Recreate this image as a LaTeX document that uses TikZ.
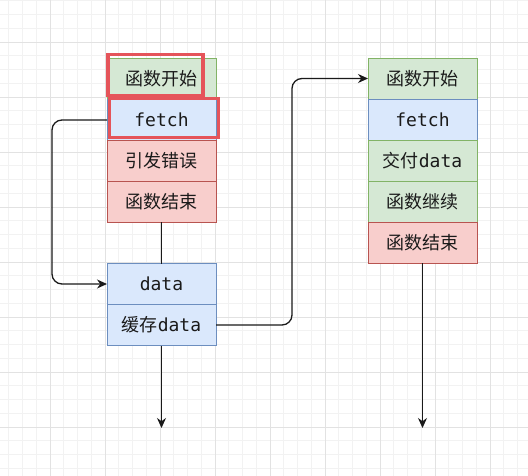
\documentclass[tikz,border=0pt]{standalone}
\usepackage{fontspec}
\setmainfont{Noto Sans CJK SC}
\setmonofont{DejaVu Sans Mono}
\usetikzlibrary{arrows.meta, positioning}
\definecolor{gridminor}{HTML}{F2F2F2}
\definecolor{gridmajor}{HTML}{E2E2E2}
\definecolor{greenfill}{HTML}{D5E8D4}
\definecolor{greenline}{HTML}{82B366}
\definecolor{bluefill}{HTML}{DAE8FC}
\definecolor{blueline}{HTML}{6C8EBF}
\definecolor{redfill}{HTML}{F8CECC}
\definecolor{redline}{HTML}{B85450}
\definecolor{hlred}{HTML}{E5545A}
\definecolor{inkdark}{HTML}{1A1A1A}

\begin{document}
\begin{tikzpicture}[
    x=1pt, y=-1pt,
    >=Stealth,
    font=\fontsize{18}{21}\selectfont,
    every node/.style={inner sep=0pt, outer sep=0pt},
    rowbox/.style={
        draw, line width=0.9pt, minimum width=109pt, minimum height=41pt,
        text=inkdark, align=center
    },
    greenbox/.style={rowbox, fill=greenfill, draw=greenline},
    bluebox/.style={rowbox, fill=bluefill, draw=blueline},
    redbox/.style={rowbox, fill=redfill, draw=redline},
    hlbox/.style={draw=hlred, line width=3.5pt},
    flow/.style={line width=1.3pt, inkdark, rounded corners=10pt},
    arrflow/.style={flow, -{Stealth[length=10pt, width=9pt]}},
]
\useasboundingbox (0,0) rectangle (528,476);

% === Background grid ===
\fill[white] (0,0) rectangle (528,476);
\foreach \i in {1,...,38} {
    \draw[gridminor, line width=0.6pt] ({-5+13.75*\i},0) -- ({-5+13.75*\i},476);
}
\foreach \i in {1,...,35} {
    \draw[gridminor, line width=0.6pt] (0,{-13+13.75*\i}) -- (528,{-13+13.75*\i});
}
\foreach \i in {1,...,9} {
    \draw[gridmajor, line width=0.8pt] ({-5+55*\i},0) -- ({-5+55*\i},476);
}
\foreach \i in {1,...,8} {
    \draw[gridmajor, line width=0.8pt] (0,{-13+55*\i}) -- (528,{-13+55*\i});
}

% === Left stack ===
\node[greenbox] (lstart) at (161.5,79) {函数开始};
\node[bluebox, below=0pt of lstart] (lfetch) {\texttt{fetch}};
\node[redbox, below=0pt of lfetch] (lerror) {引发错误};
\node[redbox, below=0pt of lerror] (lend) {函数结束};

% === Cache stack ===
\node[bluebox] (ldata) at (161.5,284) {\texttt{data}};
\node[bluebox, below=0pt of ldata] (lcache) {缓存\texttt{data}};

% === Right stack ===
\node[greenbox] (rstart) at (422.5,78.5) {函数开始};
\node[bluebox, below=0pt of rstart] (rfetch) {\texttt{fetch}};
\node[greenbox, below=0pt of rfetch] (rdeliver) {交付\texttt{data}};
\node[greenbox, below=0pt of rdeliver] (rgoon) {函数继续};
\node[redbox, below=0pt of rgoon] (rend) {函数结束};

% === Highlights ===
\node[hlbox, minimum width=95pt, minimum height=41pt] (hl1) at (155.5,75) {};
\node[hlbox, minimum width=109pt, minimum height=39pt] (hl2) at (164,118) {};

% === Connectors ===
\coordinate (loopx) at (52,0);
\coordinate (bendx) at (292,0);
\coordinate (lout) at (161.5,428);
\coordinate (rout) at (422.5,428);

\draw[flow] (lend.south) -- (ldata.north);
\draw[arrflow] (lfetch.west) -- (lfetch.west -| loopx) -- (loopx |- ldata.west) -- (ldata.west);
\draw[arrflow] (lcache.east) -- (lcache.east -| bendx) -- (bendx |- rstart.west) -- (rstart.west);
\draw[arrflow] (lcache.south) -- (lout);
\draw[arrflow] (rend.south) -- (rout);

\end{tikzpicture}
\end{document}
